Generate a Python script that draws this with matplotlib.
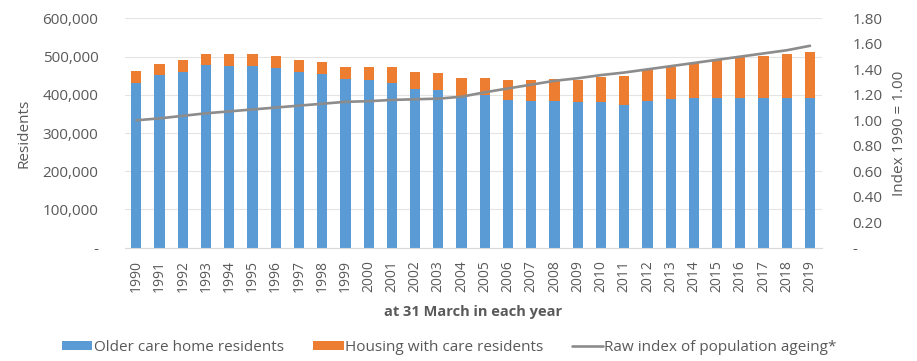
import matplotlib.pyplot as plt
import numpy as np
from matplotlib.ticker import FuncFormatter

plt.rcParams['font.family'] = ['Open Sans', 'DejaVu Sans']

years = list(range(1990, 2020))

# residents at 31 March, thousands
care_home = [432, 452, 461, 478, 476, 476, 470, 461, 454, 442,
             438, 432, 416, 413, 395, 400, 387, 383, 383, 382,
             380, 374, 384, 389, 392, 392, 392, 392, 392, 392]
total = [462, 481, 492, 508, 508, 508, 502, 491, 485, 474,
         474, 473, 460, 458, 445, 445, 440, 438, 441, 440,
         447, 450, 465, 474, 483, 492, 500, 501, 508, 513]
housing_care = [t - c for t, c in zip(total, care_home)]

# raw index of population ageing, 1990 = 1.00
ageing_index = [1.00, 1.015, 1.035, 1.055, 1.07, 1.085, 1.10, 1.115, 1.13, 1.145,
                1.15, 1.16, 1.165, 1.17, 1.185, 1.22, 1.25, 1.28, 1.31, 1.33,
                1.355, 1.375, 1.40, 1.425, 1.45, 1.475, 1.50, 1.525, 1.55, 1.585]

blue = '#5B9BD5'
orange = '#ED7D31'
grey = '#8C8C8C'
text_col = '#595959'

fig = plt.figure(figsize=(9.17, 3.61), dpi=100)
ax = fig.add_axes([0.136, 0.314, 0.760, 0.635])
ax2 = ax.twinx()

x = np.arange(len(years))
care = np.array(care_home) * 1000
housing = np.array(housing_care) * 1000
b1 = ax.bar(x, care, width=0.44, color=blue, zorder=2)
b2 = ax.bar(x, housing, width=0.44, bottom=care, color=orange, zorder=2)
l1, = ax2.plot(x, ageing_index, color=grey, lw=1.9, solid_capstyle='round')

ax.set_xlim(-0.5, len(years) - 0.5)
ax.set_ylim(0, 600000)
ax.set_yticks(np.arange(0, 600001, 100000))
ax.yaxis.set_major_formatter(FuncFormatter(lambda v, p: '-' if v == 0 else f'{v:,.0f}'))
ax2.set_ylim(0, 1.8)
ax2.set_yticks(np.arange(0, 1.81, 0.2))
ax2.yaxis.set_major_formatter(FuncFormatter(lambda v, p: '-' if abs(v) < 1e-9 else f'{v:.2f}'))

ax.set_xticks(x)
ax.set_xticklabels([str(y) for y in years], rotation=90)
ax.grid(axis='y', color='#E4E4E4', lw=0.8, zorder=0)
ax.set_axisbelow(True)

for a in (ax, ax2):
    for s in a.spines.values():
        s.set_visible(False)
    a.tick_params(length=0, colors=text_col, labelsize=11)
ax.spines['bottom'].set_visible(True)
ax.spines['bottom'].set_color('#D9D9D9')
ax.tick_params(axis='x', labelsize=10, pad=9)
ax.tick_params(axis='y', pad=19)
ax2.tick_params(axis='y', pad=22)

ax.set_ylabel('Residents', color=text_col, fontsize=11, labelpad=8)
ax2.set_ylabel('Index 1990 = 1.00', color=text_col, fontsize=11, labelpad=7)
ax.set_xlabel('at 31 March in each year', color=text_col, fontsize=10.5,
              fontweight='bold', labelpad=9)

fig.legend([b1, b2, l1],
           ['Older care home residents', 'Housing with care residents',
            'Raw index of population ageing*'],
           loc='center', bbox_to_anchor=(0.490, 0.038), ncol=3, frameon=False,
           fontsize=11, labelcolor=text_col, handlelength=2.0, handleheight=0.6,
           handletextpad=0.1, columnspacing=1.9)

fig.savefig('out.png', dpi=100)
